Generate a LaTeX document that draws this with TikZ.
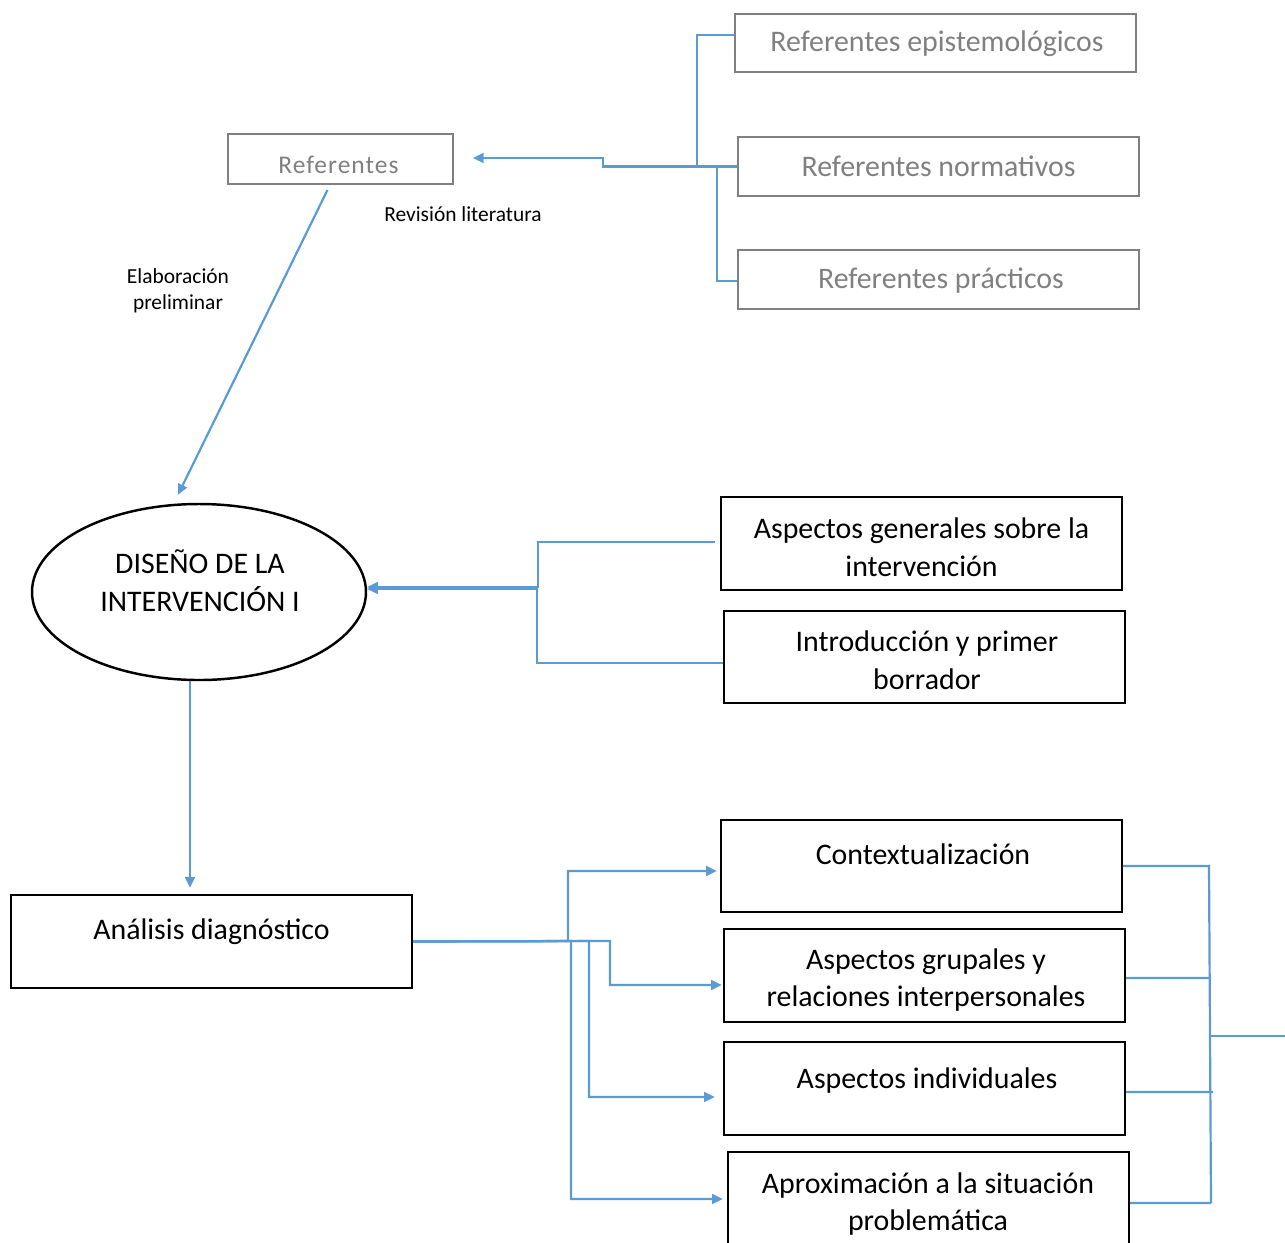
\documentclass[tikz,border=0pt]{standalone}
\usepackage{fontspec}
\setmainfont{Carlito}
\usetikzlibrary{arrows.meta,shapes.geometric,calc}
\definecolor{cblue}{HTML}{5B9BD5}
\definecolor{cgray}{HTML}{808080}
\tikzset{
  gbox/.style={draw=cgray,line width=1.1pt,minimum width=401*0.02cm,minimum height=58*0.02cm,inner sep=0pt,text=cgray,font=\fontsize{17}{20}\selectfont},
  bbox/.style={draw=black,line width=1.4pt,minimum width=401*0.02cm,minimum height=93*0.02cm,inner sep=0pt},
  btxt/.style={align=center,font=\fontsize{17}{21.5}\selectfont,inner sep=0pt},
  stxt/.style={align=center,font=\fontsize{12.2}{14.7}\selectfont,inner sep=0pt},
  conl/.style={draw=cblue,line width=1.25pt},
  con/.style={conl,-{Triangle[length=6pt,width=5.5pt]}}
}
\begin{document}
\begin{tikzpicture}[x=0.02cm,y=-0.02cm]
\clip (0,0) rectangle (1285,1242);
% gray referentes
\node[gbox] (repi) at (935.5,43) {};
\node[text=cgray,font=\fontsize{17}{20}\selectfont,inner sep=0pt] (repit) at (937,44) {Referentes epistemológicos};
\node[gbox,minimum height=59*0.02cm] (rnor) at (938.5,166.5) {Referentes normativos};
\node[gbox,minimum height=59*0.02cm] (rpra) at (938.5,279.5) {};
\node[text=cgray,font=\fontsize{17}{20}\selectfont,inner sep=0pt] (rprat) at (941,281) {Referentes prácticos};
\node[gbox,minimum width=225*0.02cm,minimum height=50*0.02cm] (ref) at (340.5,159) {};
\node[text=cgray,font=\fontsize{14.5}{18}\selectfont\addfontfeature{LetterSpace=4},inner sep=0pt] (reft) at (338.5,165) {Referentes};
% labels
\node[stxt] (lrev) at (463,214) {Revisión literatura};
\node[stxt] (lela) at (178,291) {Elaboración\\preliminar};
% ellipse
\node[ellipse,draw=black,line width=1.4pt,minimum width=334*0.02cm,minimum height=176*0.02cm,inner sep=0pt] (dis) at (199,592) {};
\node[btxt] (dist) at (200,581) {DISEÑO DE LA\\INTERVENCIÓN I};
% middle boxes
\node[bbox] (agen) at (921.5,543.5) {};
\node[btxt] (agent) at (921.5,547) {Aspectos generales sobre la\\intervención};
\node[bbox,minimum height=92*0.02cm] (intro) at (924.5,657) {};
\node[btxt] (introt) at (927,660) {Introducción y primer\\borrador};
% bottom boxes
\node[bbox] (anal) at (211.5,941.5) {};
\node[btxt] (analt) at (211.5,932) {Análisis diagnóstico};
\node[bbox,minimum height=92*0.02cm] (ctx) at (921.5,866) {};
\node[btxt] (ctxt) at (923,854) {Contextualización};
\node[bbox] (agru) at (924.5,975.5) {};
\node[btxt] (agrut) at (926,980) {Aspectos grupales y\\relaciones interpersonales};
\node[bbox] (aind) at (924.5,1088.5) {};
\node[btxt] (aindt) at (927,1081) {Aspectos individuales};
\node[bbox] (apro) at (928.5,1198.5) {};
\node[btxt] (aprot) at (928,1204) {Aproximación a la situación\\problemática};
% top connectors
\draw[con] (rnor.west) -- (603,166.5) |- ($(ref.east)+(19,-1)$);
\draw[conl] (697,166.5) |- ($(repi.west)+(0,-8)$);
\draw[conl] (717,166.5) |- ($(rpra.west)+(0,1.5)$);
\draw[con] ($(ref.south)+(-13,5)$) -- ($(dis.north)+(-21,-8)$);
% middle connectors
\draw[con] ($(agen.west)+(-5,-1.5)$) -- (538,542) |- ($(dis.east)+(0,-5)$);
\draw[con] ($(intro.west)+(0,6)$) -- (537,663) |- ($(dis.east)+(0,-3)$);
\draw[con] ($(dis.south)+(-9,0)$) -- ($(anal.north)+(-21.5,-6)$);
% bottom connectors
\draw[con] (anal.east) -- (568,941) |- ($(ctx.west)+(-3,5)$);
\draw[con] (anal.east) -- (610,941) |- ($(agru.west)+(-1,9.5)$);
\draw[con] (anal.east) -- (589,941) |- ($(aind.west)+(-8,8.5)$);
\draw[con] (anal.east) -- (571,941) |- ($(apro.west)+(-4,0.5)$);
% right bracket
\coordinate (bt) at (1209,866);
\coordinate (bb) at (1211,1203);
\coordinate (bout) at (1285,1036);
\draw[conl] (ctx.east) -- (bt) -- (bb);
\draw[conl] ($(agru.east)+(0,2.5)$) -- (1210,978);
\draw[conl] ($(aind.east)+(0,3.5)$) -- (1213,1092);
\draw[conl] ($(apro.east)+(0,4.5)$) -- (bb);
\draw[conl] (1211,1036) -- (bout);
\end{tikzpicture}
\end{document}
